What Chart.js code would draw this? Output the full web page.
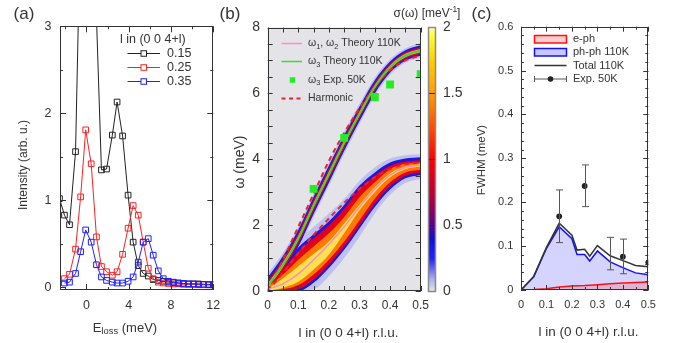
<!DOCTYPE html>
<html><head><meta charset="utf-8">
<script src="https://cdn.jsdelivr.net/npm/chart.js@4.4.1/dist/chart.umd.min.js"></script>
<style>
html,body{margin:0;padding:0;background:#fff;}
#wrap{position:relative;width:683px;height:343px;overflow:hidden;background:#fff}
canvas{position:absolute;left:0;top:0}
</style></head><body>
<div id="wrap">
<canvas id="cA" width="683" height="343"></canvas>
<canvas id="cB" width="683" height="343"></canvas>
<canvas id="cBar" width="683" height="343"></canvas>
<canvas id="cC" width="683" height="343"></canvas>
</div>
<script>
// ================= DATA =================
// Panel (a): energy-loss scans
const eLoss  = [-2.55,-2.08,-1.6,-1.03,-0.55,-0.07,0.45,0.95,1.42,1.9,2.45,2.9,3.42,3.94,4.42,4.9,5.37,5.85,6.32,6.8,7.27,7.75,8.22,8.7,9.17,9.65,10.12,10.6,11.07,11.55,12.0];
const int015 = [1.02,0.83,0.72,1.56,4.3,9.0,6.0,3.1,1.35,1.36,1.75,2.13,1.74,1.06,0.52,0.25,0.16,0.13,0.09,0.08,0.07,0.06,0.055,0.05,0.045,0.04,0.04,0.04,0.035,0.035,0.03];
const int025 = [null,0.10,0.15,0.44,1.04,1.81,1.42,0.58,0.24,0.18,0.14,0.18,0.38,0.68,0.94,0.83,0.52,0.22,0.10,0.06,0.05,0.045,0.04,0.04,0.035,0.035,0.035,0.03,0.03,0.03,0.03];
const int035 = [null,0.05,0.06,0.16,0.41,0.66,0.52,0.26,0.12,0.08,0.06,0.05,0.05,0.07,0.12,0.29,0.52,0.56,0.37,0.19,0.10,0.07,0.06,0.05,0.045,0.04,0.04,0.035,0.035,0.03,0.03];
const aSeriesNames = ['0.15','0.25','0.35'];
const aXLabels = [0,4,8,12];
const aYLabels = [0,1,2,3];

// Panel (b): dispersion
const lB        = [0,0.05,0.1,0.15,0.2,0.25,0.3,0.35,0.4,0.45,0.5];
const w3Theory  = [0.15,0.8,1.6,2.6,3.55,4.5,5.38,6.2,6.8,7.15,7.3];
const w12Theory = [0.05,0.22,0.52,0.95,1.42,1.95,2.55,3.1,3.52,3.75,3.82];
const harmUpper = [0,0.95,1.95,2.95,3.95,4.8,5.55,6.2,6.7,7.0,7.15];
const harmLower = [0,0.55,1.15,1.7,2.2,2.68,3.1,3.45,3.7,3.85,3.9];
const w3ExpL    = [0.15,0.25,0.35,0.4,0.5];
const w3ExpW    = [3.1,4.65,5.89,6.27,6.58];
// spectral-function intensity contours (meV) of the lower branch
const lowHaloLo = [0,0,0,0.05,0.45,1.0,1.65,2.35,2.92,3.28,3.4];
const lowHaloHi = [0.55,0.95,1.55,1.95,2.35,2.8,3.35,3.75,4.02,4.12,4.15];
const lowBlueLo = [0,0,0,0.25,0.7,1.25,1.9,2.55,3.08,3.42,3.52];
const lowBlueHi = [0.32,0.78,1.32,1.72,2.12,2.62,3.2,3.6,3.9,4.02,4.06];
const lowRedLo  = [0,0,0.05,0.35,0.8,1.35,2.0,2.65,3.18,3.5,3.6];
const lowRedHi  = [0.22,0.65,1.2,1.6,2.0,2.5,3.1,3.5,3.8,3.93,3.97];
const lowOrgLo  = [0,0.05,0.18,0.5,0.95,1.5,2.15,2.8,3.3,3.6,3.68];
const lowOrgHi  = [0.12,0.5,0.95,1.35,1.75,2.25,2.85,3.3,3.7,3.86,3.9];
const lowYelLo  = [0,0.1,0.28,0.65,1.1,1.75,2.45,3.0,3.45,3.7,3.78];
const lowYelHi  = [0.06,0.38,0.75,1.12,1.5,2.05,2.62,3.15,3.57,3.78,3.85];
// half widths of the upper branch contours (meV)
const upHaloW = [0.38,0.36,0.36,0.36,0.36,0.34,0.31,0.28,0.24,0.22,0.22];
const upBlueW = [0.26,0.26,0.26,0.26,0.26,0.24,0.22,0.2,0.17,0.16,0.16];
const upRedW  = [0.16,0.16,0.16,0.16,0.16,0.15,0.13,0.12,0.1,0.1,0.1];
const upCoreW = [0.07,0.07,0.07,0.07,0.07,0.06,0.06,0.05,0.05,0.05,0.05];
const bXLabels = [0,0.1,0.2,0.3,0.4,0.5];
const bYLabels = [0,2,4,6,8];
const cbLabels = [0,0.5,1,1.5,2];
const cbStops  = [0,0.1,0.25,0.4,0.5,0.7,1.0,1.25,1.5,1.75,1.95,2.0];
const cbColors = ['#e6e6ea','#a8a8f0','#2020ff','#1010d0','#5a0090','#b00040','#ff0000','#ff5000','#ff9c00','#ffd000','#ffff40','#ffffc8'];

// Panel (c): linewidths
const lC      = [0,0.05,0.1,0.15,0.2,0.22,0.25,0.27,0.3,0.35,0.4,0.45,0.5];
const ePh     = [0,0.001,0.003,0.007,0.009,0.0095,0.010,0.011,0.012,0.014,0.016,0.017,0.018];
const phPh    = [0,0.030,0.095,0.144,0.117,0.081,0.081,0.066,0.089,0.064,0.051,0.039,0.035];
const total   = [0,0.031,0.097,0.152,0.125,0.091,0.093,0.077,0.101,0.078,0.067,0.056,0.053];
const expL    = [0.15,0.25,0.35,0.4,0.5];
const expFWHM = [0.168,0.237,null,0.076,0.063];
const expLo   = [0.108,0.19,0.046,0.037,0.063];
const expHi   = [0.228,0.285,0.12,0.116,0.063];
const cXLabels = [0,0.1,0.2,0.3,0.4,0.5];
const cYLabels = [0,0.1,0.2,0.3,0.4,0.5,0.6];

// ================= HELPERS =================
const FONT = "'Liberation Sans', Arial, sans-serif";
Chart.defaults.font.family = FONT;
Chart.defaults.color = '#333';
Chart.defaults.animation = false;

const pts = (xs, ys) => xs.map((x, i) => ({x, y: ys[i]}));
const range = (a, b, s) => { const r = []; for (let i = 0; Math.round((a + i*s)*1e6)/1e6 <= b + 1e-9; i++) r.push(Math.round((a + i*s)*1e6)/1e6); return r; };

function drawText(ctx, t) {
  const segs = t.segs || [{t: t.t}];
  const base = t.size;
  let w = 0;
  segs.forEach(s => { ctx.font = `${(s.scale||1)*base}px ${FONT}`; s._w = ctx.measureText(s.t).width; w += s._w; });
  ctx.save(); ctx.translate(t.x, t.y); if (t.rot) ctx.rotate(t.rot);
  let x = t.align === 'left' ? 0 : (t.align === 'right' ? -w : -w/2);
  ctx.fillStyle = t.color || '#333'; ctx.textBaseline = 'middle'; ctx.textAlign = 'left';
  segs.forEach(s => { ctx.font = `${(s.scale||1)*base}px ${FONT}`; ctx.fillText(s.t, x, (s.dy||0)*base); x += s._w; });
  ctx.restore();
}

function drawLegendItem(ctx, it) {
  ctx.save();
  if (it.kind === 'line') {
    ctx.strokeStyle = it.color; ctx.lineWidth = it.width || 1; ctx.setLineDash(it.dash || []);
    ctx.beginPath(); ctx.moveTo(it.x1, it.y); ctx.lineTo(it.x2, it.y); ctx.stroke(); ctx.setLineDash([]);
    if (it.marker === 'openSquare') {
      const m = (it.x1 + it.x2)/2, s = it.ms/2;
      ctx.fillStyle = '#fff'; ctx.fillRect(m - s, it.y - s, 2*s, 2*s);
      ctx.lineWidth = 1; ctx.strokeRect(m - s, it.y - s, 2*s, 2*s);
    }
  } else if (it.kind === 'square') {
    ctx.fillStyle = it.color; ctx.fillRect(it.x - it.ms/2, it.y - it.ms/2, it.ms, it.ms);
  } else if (it.kind === 'box') {
    ctx.fillStyle = it.fill; ctx.fillRect(it.x1, it.y1, it.x2 - it.x1, it.y2 - it.y1);
    ctx.strokeStyle = it.color; ctx.lineWidth = it.width; ctx.strokeRect(it.x1, it.y1, it.x2 - it.x1, it.y2 - it.y1);
  } else if (it.kind === 'err') {
    ctx.strokeStyle = it.color; ctx.lineWidth = 1; ctx.beginPath();
    ctx.moveTo(it.x1, it.y); ctx.lineTo(it.x2, it.y);
    ctx.moveTo(it.x1, it.y - 3); ctx.lineTo(it.x1, it.y + 3);
    ctx.moveTo(it.x2, it.y - 3); ctx.lineTo(it.x2, it.y + 3); ctx.stroke();
    ctx.fillStyle = it.dot; ctx.beginPath(); ctx.arc((it.x1 + it.x2)/2, it.y, 2.8, 0, 2*Math.PI); ctx.fill();
  }
  ctx.restore();
  if (it.text) drawText(ctx, {segs: it.text, x: it.tx, y: it.y, size: it.size, align: 'left', color: '#333'});
}

const deco = {
  id: 'deco',
  beforeDraw(chart, args, o) {
    if (!o.bg) return;
    const a = chart.chartArea, ctx = chart.ctx;
    ctx.save(); ctx.fillStyle = o.bg; ctx.fillRect(a.left, a.top, a.right - a.left, a.bottom - a.top); ctx.restore();
  },
  afterDatasetsDraw(chart, args, o) {
    if (!o.err) return;
    const ctx = chart.ctx, sx = chart.scales.x, sy = chart.scales.y, e = o.err;
    ctx.save(); ctx.strokeStyle = e.color; ctx.lineWidth = 1; ctx.beginPath();
    e.x.forEach((xv, i) => {
      if (e.hi[i] - e.lo[i] <= 0) return;
      const px = Math.round(sx.getPixelForValue(xv)) + 0.5;
      const y1 = sy.getPixelForValue(e.lo[i]), y2 = sy.getPixelForValue(e.hi[i]);
      ctx.moveTo(px, y1); ctx.lineTo(px, y2);
      ctx.moveTo(px - e.cap, y1); ctx.lineTo(px + e.cap, y1);
      ctx.moveTo(px - e.cap, y2); ctx.lineTo(px + e.cap, y2);
    });
    ctx.stroke(); ctx.restore();
  },
  afterDraw(chart, args, o) {
    const ctx = chart.ctx, a = chart.chartArea;
    ctx.save();
    (o.ticks || []).forEach(t => {
      const sc = chart.scales[t.axis];
      ctx.strokeStyle = t.color || '#333'; ctx.lineWidth = 1; ctx.beginPath();
      t.values.forEach(v => {
        const p = Math.round(sc.getPixelForValue(v)) + 0.5;
        if (t.axis === 'x') {
          ctx.moveTo(p, a.bottom); ctx.lineTo(p, a.bottom - t.len);
          ctx.moveTo(p, a.top); ctx.lineTo(p, a.top + t.len);
        } else {
          ctx.moveTo(a.left, p); ctx.lineTo(a.left + t.len, p);
          ctx.moveTo(a.right, p); ctx.lineTo(a.right - t.len, p);
        }
      });
      ctx.stroke();
    });
    if (o.box) {
      ctx.strokeStyle = o.box.color; ctx.lineWidth = o.box.width;
      const l = Math.round(a.left) + 0.5, t = Math.round(a.top) + 0.5, r = Math.round(a.right) - 0.5, b = Math.round(a.bottom) - 0.5;
      ctx.strokeRect(l, t, r - l, b - t);
    }
    ctx.restore();
    (o.legend || []).forEach(it => drawLegendItem(ctx, it));
    (o.texts || []).forEach(t => drawText(ctx, t));
  }
};

function mkScales(c) {
  return {
    x: {type: c.xType || 'linear', min: c.xr[0], max: c.xr[1], position: 'bottom', display: c.xShow !== false,
        afterBuildTicks: s => { if (c.xl) s.ticks = c.xl.map(v => ({value: v})); },
        afterFit: s => { s.height = c.hx; },
        grid: {display: false, drawTicks: false}, border: {display: false},
        ticks: {padding: c.xp, font: {size: c.xf, family: FONT}, color: '#333', maxRotation: 0, autoSkip: false, callback: v => String(v)}},
    y: {type: 'linear', min: c.yr[0], max: c.yr[1], position: c.yPos || 'left',
        afterBuildTicks: s => { s.ticks = c.yl.map(v => ({value: v})); },
        afterFit: s => { s.width = c.wy; },
        grid: {display: false, drawTicks: false}, border: {display: false},
        ticks: {padding: c.yp, font: {size: c.yf, family: FONT}, color: '#333', autoSkip: false, callback: v => String(v)}}
  };
}
const base = {responsive: false, animation: false, events: []};

// ================= PANEL (a) =================
const aColors = ['#222222', '#ff2020', '#2020ff'];
const aData = [int015, int025, int035];
new Chart(document.getElementById('cA'), {
  type: 'line',
  data: {datasets: aData.map((d, i) => ({
    label: aSeriesNames[i], data: pts(eLoss, d), borderColor: aColors[i], borderWidth: 1,
    pointStyle: 'rect', pointRadius: 4, pointBorderColor: aColors[i], pointBackgroundColor: 'rgba(0,0,0,0)',
    pointBorderWidth: 1, fill: false, tension: 0, order: 3 - i
  }))},
  options: {...base,
    layout: {padding: {left: 20, right: 469.7, top: 26.3, bottom: 23}},
    scales: mkScales({xr: [-2.5, 12], yr: [-0.03, 3], xl: aXLabels, yl: aYLabels, hx: 30, wy: 40, xp: 8, yp: 8.5, xf: 12.5, yf: 12.5}),
    plugins: {legend: {display: false}, tooltip: {enabled: false},
      deco: {
        box: {color: '#333', width: 1},
        ticks: [{axis: 'x', values: aXLabels, len: 6}, {axis: 'x', values: [-2, 2, 6, 10], len: 3},
                {axis: 'y', values: aYLabels, len: 6}, {axis: 'y', values: [0.5, 1.5, 2.5], len: 3}],
        legend: aSeriesNames.map((n, i) => ({kind: 'line', x1: 127.5, x2: 160, y: 53.5 + i*14, color: aColors[i], width: 1,
                  marker: 'openSquare', ms: 5.5, text: [{t: n}], tx: 167, size: 12.5})),
        texts: [
          {t: '(a)', x: 24, y: 14.5, size: 17},
          {t: 'l in (0 0 4+l)', x: 120, y: 40, size: 12.5, align: 'left'},
          {t: 'Intensity (arb. u.)', x: 24, y: 165, size: 12, rot: -Math.PI/2},
          {segs: [{t: 'E'}, {t: 'loss', scale: 0.72, dy: 0.3}, {t: ' (meV)'}], x: 125, y: 328, size: 13}
        ]
      }}
  },
  plugins: [deco]
});

// ================= PANEL (b) =================
function band(lo, hi, color, order) {
  return [
    {data: pts(lB, lo), borderWidth: 0, pointRadius: 0, fill: false, order, cubicInterpolationMode: 'monotone'},
    {data: pts(lB, hi), borderWidth: 0, pointRadius: 0, fill: '-1', backgroundColor: color, order, cubicInterpolationMode: 'monotone'}
  ];
}
const off = (c, w, s) => c.map((v, i) => v + s*w[i]);
const C_HALO = 'rgb(192,192,240)', C_BLUE = 'rgb(25,25,225)', C_RED = 'rgb(228,0,28)', C_ORG = 'rgb(255,120,0)', C_YEL = 'rgb(255,225,80)', C_CORE = 'rgb(255,170,120)';
const bDatasets = [
  {label: 'w3exp', data: pts(w3ExpL, w3ExpW), showLine: false, pointStyle: 'rect', pointRadius: 5.6,
   pointBackgroundColor: '#22ee22', pointBorderColor: '#22ee22', pointBorderWidth: 0, order: 0},
  {label: 'w3', data: pts(lB, w3Theory), borderColor: '#33dd33', borderWidth: 2, pointRadius: 0, cubicInterpolationMode: 'monotone', order: 1},
  {label: 'w12', data: pts(lB, w12Theory), borderColor: '#ff8cc6', borderWidth: 1.5, pointRadius: 0, cubicInterpolationMode: 'monotone', order: 2},
  {label: 'harmU', data: pts(lB, harmUpper), borderColor: '#ee2222', borderWidth: 2, borderDash: [5, 4], pointRadius: 0, cubicInterpolationMode: 'monotone', order: 3},
  {label: 'harmL', data: pts(lB, harmLower), borderColor: '#ee2222', borderWidth: 2, borderDash: [5, 4], pointRadius: 0, cubicInterpolationMode: 'monotone', order: 3},
  ...band(lowHaloLo, lowHaloHi, C_HALO, 60),
  ...band(off(w3Theory, upHaloW, -1), off(w3Theory, upHaloW, 1), C_HALO, 60),
  ...band(lowBlueLo, lowBlueHi, C_BLUE, 50),
  ...band(off(w3Theory, upBlueW, -1), off(w3Theory, upBlueW, 1), C_BLUE, 50),
  ...band(lowRedLo, lowRedHi, C_RED, 40),
  ...band(off(w3Theory, upRedW, -1), off(w3Theory, upRedW, 1), C_RED, 40),
  ...band(lowOrgLo, lowOrgHi, C_ORG, 30),
  ...band(lowYelLo, lowYelHi, C_YEL, 20),
  ...band(off(w3Theory, upCoreW, -1), off(w3Theory, upCoreW, 1), C_CORE, 20)
];
new Chart(document.getElementById('cB'), {
  type: 'line',
  data: {datasets: bDatasets},
  options: {...base,
    layout: {padding: {left: 227.7, right: 262.3, top: 27.5, bottom: 22}},
    scales: mkScales({xr: [0, 0.5], yr: [0, 8], xl: bXLabels, yl: bYLabels, hx: 30, wy: 40, xp: 7.5, yp: 7.7, xf: 12, yf: 14}),
    plugins: {legend: {display: false}, tooltip: {enabled: false},
      deco: {
        bg: 'rgb(228,228,232)',
        box: {color: '#333', width: 1},
        ticks: [{axis: 'x', values: range(0, 0.5, 0.05), len: 5}, {axis: 'y', values: range(0, 8, 0.5), len: 5}],
        legend: [
          {kind: 'line', x1: 281.5, x2: 302, y: 43.5, color: '#ff8cc6', width: 1.5, size: 10.5, tx: 308,
           text: [{t: 'ω'}, {t: '1', scale: 0.7, dy: 0.3}, {t: ', ω'}, {t: '2', scale: 0.7, dy: 0.3}, {t: ' Theory 110K'}]},
          {kind: 'line', x1: 281.5, x2: 302, y: 61.5, color: '#33dd33', width: 1.5, size: 10.5, tx: 308,
           text: [{t: 'ω'}, {t: '3', scale: 0.7, dy: 0.3}, {t: ' Theory 110K'}]},
          {kind: 'square', x: 292.5, y: 80, ms: 5.5, color: '#22ee22', size: 10.5, tx: 308,
           text: [{t: 'ω'}, {t: '3', scale: 0.7, dy: 0.3}, {t: ' Exp. 50K'}]},
          {kind: 'line', x1: 281.5, x2: 302, y: 98.5, color: '#ee2222', width: 2, dash: [4, 3.5], size: 10.5, tx: 308,
           text: [{t: 'Harmonic'}]}
        ],
        texts: [
          {t: '(b)', x: 230, y: 14.5, size: 17},
          {t: 'ω (meV)', x: 240, y: 162, size: 14, rot: -Math.PI/2},
          {t: 'l in (0 0 4+l) r.l.u.', x: 348.5, y: 333, size: 13.5},
          {segs: [{t: 'σ(ω) [meV'}, {t: '-1', scale: 0.7, dy: -0.35}, {t: ']'}], x: 427, y: 14, size: 12}
        ]
      }}
  },
  plugins: [deco]
});

// ================= COLOR BAR =================
new Chart(document.getElementById('cBar'), {
  type: 'bar',
  data: {labels: [''], datasets: [{data: [[cbLabels[0], cbLabels[cbLabels.length - 1]]], borderWidth: 0, barPercentage: 1, categoryPercentage: 1,
    backgroundColor: (c) => {
      const ch = c.chart; if (!ch.chartArea) return '#fff';
      const y = ch.scales.y;
      const g = ch.ctx.createLinearGradient(0, y.getPixelForValue(0), 0, y.getPixelForValue(2));
      cbStops.forEach((v, i) => g.addColorStop(v/2, cbColors[i]));
      return g;
    }}]},
  options: {...base,
    layout: {padding: {left: 428.3, right: 217.3, top: 27.3, bottom: 51.5}},
    scales: (() => { const s = mkScales({xType: 'category', xr: [undefined, undefined], xShow: false, yr: [0, 2], yl: cbLabels, hx: 0, wy: 30, xp: 0, yp: 7.3, xf: 12, yf: 14, yPos: 'right'}); delete s.x.min; delete s.x.max; delete s.x.afterBuildTicks; return s; })(),
    plugins: {legend: {display: false}, tooltip: {enabled: false},
      deco: {
        box: {color: '#8a8a8a', width: 1.5},
        ticks: [{axis: 'y', values: [0.5, 1, 1.5], len: 4, color: '#222'}]
      }}
  },
  plugins: [deco]
});

// ================= PANEL (c) =================
new Chart(document.getElementById('cC'), {
  type: 'line',
  data: {datasets: [
    {label: 'Exp. 50K', data: pts(expL, expFWHM), showLine: false, pointStyle: 'circle', pointRadius: 2.9,
     pointBackgroundColor: '#222', pointBorderColor: '#222', pointBorderWidth: 0, order: 0},
    {label: 'Total 110K', data: pts(lC, total), borderColor: '#333', borderWidth: 1.5, pointRadius: 0, fill: false, order: 1},
    {label: 'e-ph', data: pts(lC, ePh), borderColor: '#ff1010', borderWidth: 1.5, pointRadius: 0, fill: 'origin', backgroundColor: 'rgba(255,60,60,0.22)', order: 2},
    {label: 'ph-ph 110K', data: pts(lC, phPh), borderColor: '#1010ff', borderWidth: 1.5, pointRadius: 0, fill: 'origin', backgroundColor: 'rgba(40,40,255,0.2)', order: 3}
  ]},
  options: {...base,
    layout: {padding: {left: 481, right: 34.7, top: 26.7, bottom: 23}},
    scales: mkScales({xr: [0, 0.5], yr: [0, 0.6], xl: cXLabels, yl: cYLabels, hx: 30, wy: 40, xp: 8, yp: 7.7, xf: 11, yf: 11}),
    plugins: {legend: {display: false}, tooltip: {enabled: false},
      deco: {
        box: {color: '#333', width: 1},
        err: {x: expL, lo: expLo, hi: expHi, cap: 3.5, color: '#555'},
        ticks: [{axis: 'x', values: cXLabels, len: 5}, {axis: 'x', values: [0.05, 0.15, 0.25, 0.35, 0.45], len: 3},
                {axis: 'y', values: cYLabels, len: 5}, {axis: 'y', values: range(0, 0.6, 0.02), len: 3}],
        legend: [
          {kind: 'box', x1: 534.5, x2: 566.5, y1: 35.5, y2: 43, fill: 'rgb(255,205,205)', color: '#ff1010', width: 1.5, y: 39, tx: 573, size: 11, text: [{t: 'e-ph'}]},
          {kind: 'box', x1: 534.5, x2: 566.5, y1: 48.5, y2: 56, fill: 'rgb(200,200,255)', color: '#1010ff', width: 1.5, y: 52, tx: 573, size: 11, text: [{t: 'ph-ph 110K'}]},
          {kind: 'line', x1: 534.5, x2: 566.5, y: 65.5, color: '#333', width: 1.5, tx: 573, size: 11, text: [{t: 'Total 110K'}]},
          {kind: 'err', x1: 534.5, x2: 566.5, y: 79, color: '#555', dot: '#222', tx: 573, size: 11, text: [{t: 'Exp. 50K'}]}
        ],
        texts: [
          {t: '(c)', x: 481.5, y: 14.5, size: 17},
          {t: 'FWHM (meV)', x: 481.5, y: 160, size: 11.5, rot: -Math.PI/2},
          {t: 'l in (0 0 4+l) r.l.u.', x: 588.5, y: 332.5, size: 13.5}
        ]
      }}
  },
  plugins: [deco]
});
</script>
</body></html>
